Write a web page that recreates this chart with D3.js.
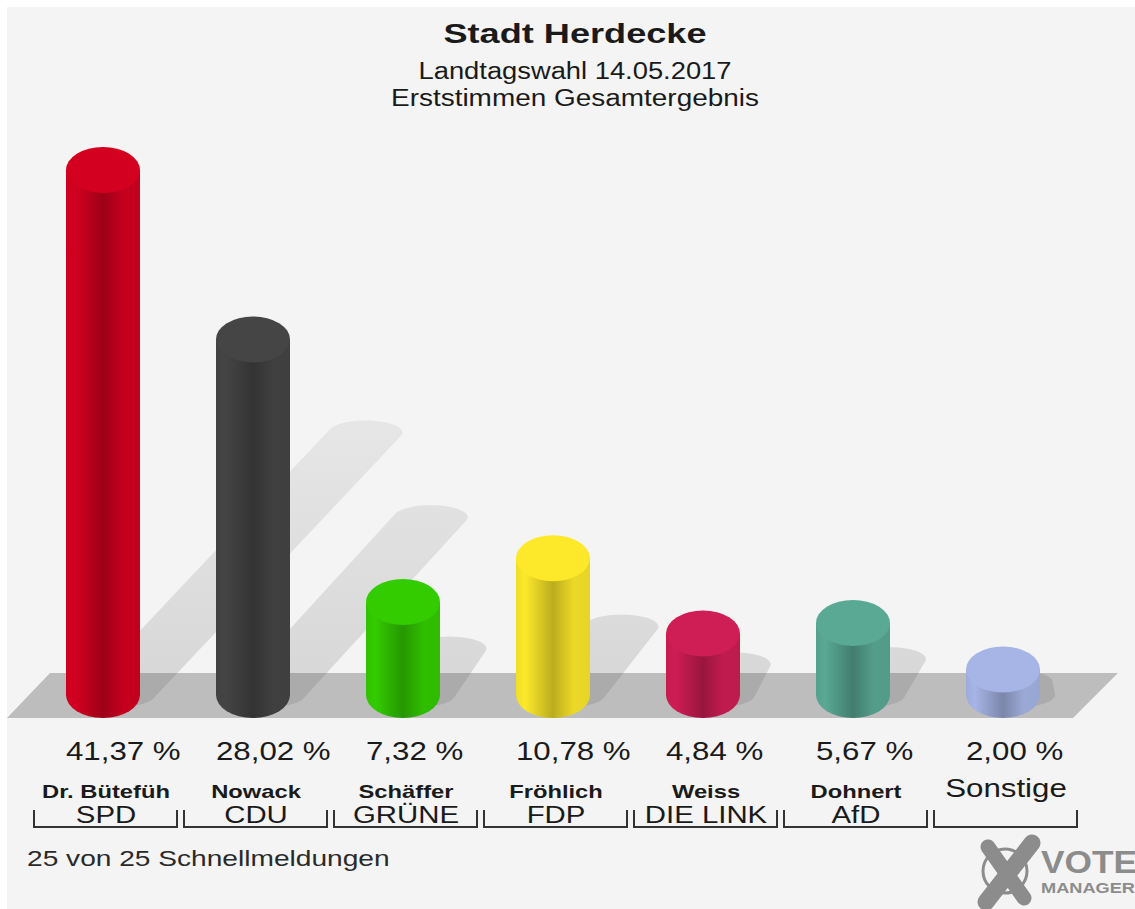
<!DOCTYPE html>
<html>
<head>
<meta charset="utf-8">
<script src="https://cdn.jsdelivr.net/npm/d3@7"></script>
<style>
  html, body { margin: 0; padding: 0; background: #ffffff; }
  svg { display: block; }
  text { font-family: "Liberation Sans", Arial, Helvetica, sans-serif; }
</style>
</head>
<body>
<svg id="chart" width="1135" height="909"></svg>
<script>
// ---- data ----
const candidates = ["Dr. Bütefüh", "Nowack", "Schäffer", "Fröhlich", "Weiss", "Dohnert", "Sonstige"];
const parties    = ["SPD", "CDU", "GRÜNE", "FDP", "DIE LINK", "AfD", ""];
const values     = [41.37, 28.02, 7.32, 10.78, 4.84, 5.67, 2.00];
const colors     = ["#d40020", "#454545", "#33cc00", "#fde92a", "#cf1d55", "#5aa995", "#a6b5e6"];
const titleLines = ["Stadt Herdecke", "Landtagswahl 14.05.2017", "Erststimmen Gesamtergebnis"];
const footerText = "25 von 25 Schnellmeldungen";

// ---- layout ----
const W = 1135, H = 909;
const svg = d3.select("#chart");
const defs = svg.append("defs");
const STRETCH = 1.25;

const x = d3.scaleBand().domain(d3.range(values.length)).range([28, 1078]).padding(0);
const y = d3.scaleLinear().domain([0, 41.37]).range([695, 170]);
const RX = 37, RY = 23, SRY = 12;
const baseY = y(0);
const floorTop = 673, floorBot = 718;

const locale = d3.formatLocale({decimal: ",", thousands: ".", grouping: [3], currency: ["", " €"]});
const fmt = locale.format(".2f");

// background panel
svg.append("rect").attr("x", 0).attr("y", 0).attr("width", W).attr("height", H).attr("fill", "#ffffff");
svg.append("rect").attr("x", 7).attr("y", 7).attr("width", W - 7).attr("height", H - 7).attr("fill", "#f4f4f4");

// stretched text helper
function stext(parent, tx, ty, str, o) {
  const g = parent.append("g").attr("transform", `translate(${tx},${ty}) scale(${o.sx || STRETCH},1)`);
  return g.append("text")
    .attr("text-anchor", o.anchor || "middle")
    .attr("font-size", o.size)
    .attr("font-weight", o.weight || "normal")
    .attr("fill", o.fill || "#1a1a1a")
    .text(str);
}

// titles
const titleSpec = [
  {y: 43, size: 28, weight: "bold", len: 263},
  {y: 79, size: 23, weight: "normal", len: 313},
  {y: 106, size: 23, weight: "normal", len: 368}
];
titleLines.forEach((t, i) => {
  svg.append("text")
    .attr("x", 575).attr("y", titleSpec[i].y)
    .attr("text-anchor", "middle")
    .attr("font-size", titleSpec[i].size)
    .attr("font-weight", titleSpec[i].weight)
    .attr("fill", "#1a1a1a")
    .attr("textLength", titleSpec[i].len)
    .attr("lengthAdjust", "spacingAndGlyphs")
    .text(t);
});

// shadows
function shadowPts(i) {
  const cx = x(i) + x.bandwidth() / 2;
  const h = baseY - y(values[i]);
  const c0 = [cx + 15, baseY];
  const c1 = [cx + 0.5 * h, baseY - 0.5 * h];
  const pts = [];
  for (let k = 0; k < 48; k++) {
    const a = (k / 48) * Math.PI * 2;
    pts.push([c0[0] + RX * Math.cos(a), c0[1] + SRY * Math.sin(a)]);
    pts.push([c1[0] + RX * Math.cos(a), c1[1] + SRY * Math.sin(a)]);
  }
  return d3.polygonHull(pts);
}
const closedLine = d3.line().curve(d3.curveLinearClosed);

const floorPts = [[7, floorBot], [50, floorTop], [1118, floorTop], [1073, floorBot]];
defs.append("clipPath").attr("id", "floorClip")
  .append("path").attr("d", closedLine(floorPts));

const wallGrad = defs.append("linearGradient").attr("id", "wallShadow")
  .attr("gradientUnits", "userSpaceOnUse").attr("x1", 0).attr("y1", 673).attr("x2", 0).attr("y2", 420);
wallGrad.append("stop").attr("offset", 0).attr("stop-color", "#d8d8d8");
wallGrad.append("stop").attr("offset", 1).attr("stop-color", "#e6e6e6");

const gShadow = svg.append("g");
values.forEach((v, i) => {
  gShadow.append("path").attr("d", closedLine(shadowPts(i))).attr("fill", "url(#wallShadow)");
});

// floor
svg.append("path").attr("d", closedLine(floorPts)).attr("fill", "#bdbdbd");

const gFloorShadow = svg.append("g").attr("clip-path", "url(#floorClip)");
values.forEach((v, i) => {
  gFloorShadow.append("path").attr("d", closedLine(shadowPts(i))).attr("fill", "#ababab");
});

// cylinders
const gBars = svg.append("g");
values.forEach((v, i) => {
  const c = colors[i];
  const grad = defs.append("linearGradient").attr("id", "cyl" + i)
    .attr("x1", 0).attr("y1", 0).attr("x2", 1).attr("y2", 0);
  [[0, d3.color(c).darker(0.15)], [0.12, d3.color(c)], [0.5, d3.color(c).darker(0.85)],
   [0.78, d3.color(c).darker(0.2)], [1, d3.color(c).darker(0.25)]]
    .forEach(s => grad.append("stop").attr("offset", s[0]).attr("stop-color", s[1].formatHex()));

  const cx = x(i) + x.bandwidth() / 2;
  const yt = y(v);
  const body = `M${cx - RX},${yt} L${cx - RX},${baseY} A${RX},${RY} 0 0 0 ${cx + RX},${baseY} L${cx + RX},${yt} Z`;
  gBars.append("path").attr("d", body).attr("fill", `url(#cyl${i})`);
  gBars.append("ellipse").attr("cx", cx).attr("cy", yt).attr("rx", RX).attr("ry", RY).attr("fill", c);
});

// labels
const gLab = svg.append("g");
values.forEach((v, i) => {
  const cx = x(i) + x.bandwidth() / 2;
  stext(gLab, cx - 37, 760, fmt(v) + " %", {size: 25, anchor: "start"});
  if (parties[i]) {
    stext(gLab, cx + 3, 798, candidates[i], {size: 19, weight: "bold"});
    stext(gLab, cx + 3, 823, parties[i], {size: 23.5});
  } else {
    stext(gLab, cx + 3, 797, candidates[i], {size: 25});
  }
  const l = x(i) + 6, r = x(i) + 149;
  gLab.append("path")
    .attr("d", `M${l},810 L${l},827 L${r},827 L${r},810`)
    .attr("fill", "none").attr("stroke", "#333").attr("stroke-width", 2);
});

// footer
stext(svg, 27, 866, footerText, {size: 22.5, anchor: "start", fill: "#2a2a2a"});

// logo
const gLogo = svg.append("g").attr("fill", "#8c8c8c").attr("stroke", "#8c8c8c");
gLogo.append("circle").attr("cx", 1005).attr("cy", 871).attr("r", 22).attr("fill", "none").attr("stroke-width", 3);
gLogo.append("line").attr("x1", 986).attr("y1", 902).attr("x2", 1032).attr("y2", 843)
  .attr("stroke-width", 17).attr("stroke-linecap", "round");
gLogo.append("line").attr("x1", 988).attr("y1", 847).attr("x2", 1024).attr("y2", 898)
  .attr("stroke-width", 15).attr("stroke-linecap", "round");
gLogo.append("text").attr("x", 1041).attr("y", 873).attr("font-size", 32).attr("font-weight", "bold")
  .attr("stroke", "none").attr("textLength", 96).attr("lengthAdjust", "spacingAndGlyphs").text("VOTE");
gLogo.append("text").attr("x", 1041).attr("y", 893).attr("font-size", 15).attr("font-weight", "bold")
  .attr("stroke", "none").attr("textLength", 94).attr("lengthAdjust", "spacingAndGlyphs").text("MANAGER");
</script>
</body>
</html>
